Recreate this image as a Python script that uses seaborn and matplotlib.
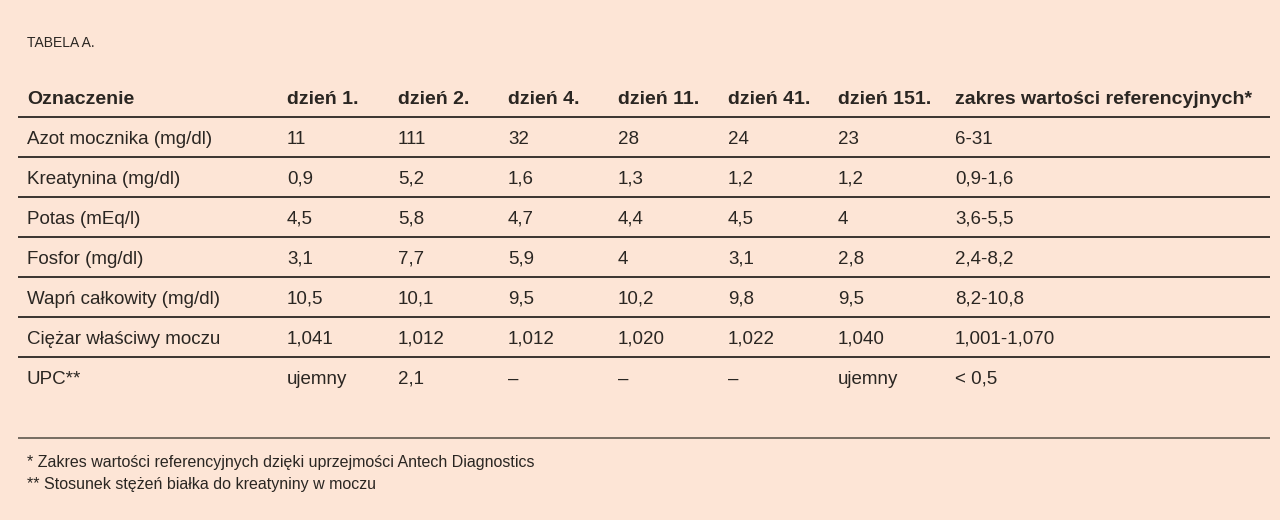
import matplotlib.pyplot as plt
import seaborn as sns

# ===== Table data =====
columns = ["Oznaczenie", "dzień 1.", "dzień 2.", "dzień 4.", "dzień 11.",
           "dzień 41.", "dzień 151.", "zakres wartości referencyjnych*"]
labels = ["Azot mocznika (mg/dl)", "Kreatynina (mg/dl)", "Potas (mEq/l)",
          "Fosfor (mg/dl)", "Wapń całkowity (mg/dl)", "Ciężar właściwy moczu", "UPC**"]
day1 = ["11", "0,9", "4,5", "3,1", "10,5", "1,041", "ujemny"]
day2 = ["111", "5,2", "5,8", "7,7", "10,1", "1,012", "2,1"]
day4 = ["32", "1,6", "4,7", "5,9", "9,5", "1,012", "–"]
day11 = ["28", "1,3", "4,4", "4", "10,2", "1,020", "–"]
day41 = ["24", "1,2", "4,5", "3,1", "9,8", "1,022", "–"]
day151 = ["23", "1,2", "4", "2,8", "9,5", "1,040", "ujemny"]
ref_range = ["6-31", "0,9-1,6", "3,6-5,5", "2,4-8,2", "8,2-10,8", "1,001-1,070", "< 0,5"]
footnotes = ["* Zakres wartości referencyjnych dzięki uprzejmości Antech Diagnostics",
             "** Stosunek stężeń białka do kreatyniny w moczu"]

sns.set_theme(style="white")
plt.rcParams["font.family"] = ["Liberation Sans Narrow", "Liberation Sans", "DejaVu Sans"]

bg = "#fde5d6"
ink = "#2a2622"
fig = plt.figure(figsize=(12.8, 5.2), dpi=100, facecolor=bg)
ax = fig.add_axes([0, 0, 1, 1], facecolor=bg)
ax.set_xlim(0, 1280)
ax.set_ylim(520, 0)
ax.axis("off")

col_x = [27, 287, 398, 508, 618, 728, 838, 955]
cols = [labels, day1, day2, day4, day11, day41, day151, ref_range]

ax.text(27, 43, "TABELA A.", fontsize=10, color=ink, va="center")

# header
for x, name in zip(col_x, columns):
    ax.text(x, 100, name, fontsize=14, fontweight="bold", color=ink, va="center")
ax.hlines(117, 18, 1270, color=ink, lw=1.3)

# body rows
row_h = 40
for i in range(len(labels)):
    y = 139 + i * row_h
    for x, col in zip(col_x, cols):
        ax.text(x, y, col[i], fontsize=13.5, color=ink, va="center")
    if i < len(labels) - 1:
        ax.hlines(y + 18, 18, 1270, color=ink, lw=1.3)

ax.hlines(438, 18, 1270, color="#6b6358", lw=1.3)

for j, note in enumerate(footnotes):
    ax.text(27, 463 + j * 22, note, fontsize=11.5, color=ink, va="center")

fig.savefig("out.png", dpi=100, facecolor=bg)
